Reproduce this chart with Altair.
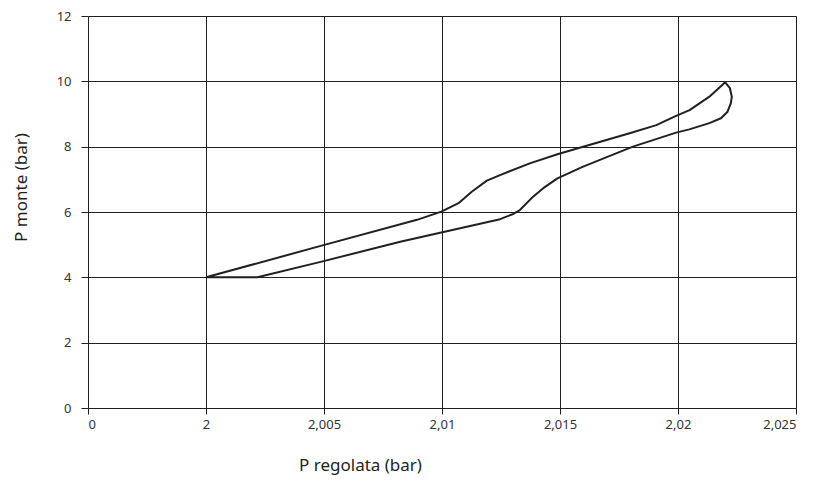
import altair as alt
import pandas as pd

# Closed loop: upper branch (rising), tip, then lower branch (returning)
p_regolata = [
    2.0000, 2.0049, 2.00894, 2.00997, 2.01070, 2.01126, 2.01190, 2.01246,
    2.01372, 2.01489, 2.01598, 2.01795, 2.01908, 2.01992, 2.02049, 2.02133,
    2.02200,
    2.02220, 2.02228, 2.02224, 2.02210, 2.02182, 2.02133, 2.02048, 2.01992,
    2.01809, 2.01598, 2.01489, 2.01429, 2.01386, 2.01330, 2.01302, 2.01246,
    2.00997, 2.00823, 2.00490, 2.00218, 2.0000,
]
p_monte = [
    4.00, 4.97, 5.76, 6.01, 6.27, 6.62, 6.96, 7.13,
    7.49, 7.77, 8.00, 8.41, 8.66, 8.94, 9.12, 9.53,
    9.97,
    9.79, 9.53, 9.33, 9.07, 8.87, 8.72, 8.53, 8.43,
    8.00, 7.39, 7.03, 6.73, 6.47, 6.06, 5.94, 5.78,
    5.37, 5.09, 4.48, 4.00, 4.00,
]
x_ticks = [1.995, 2.0, 2.005, 2.01, 2.015, 2.02, 2.025]
y_ticks = [0, 2, 4, 6, 8, 10, 12]

df = pd.DataFrame({
    "x": p_regolata,
    "y": p_monte,
    "i": list(range(len(p_regolata))),
})

FONT = "Noto Sans"
INK = "#231f20"

chart = alt.Chart(df).mark_line(
    color=INK, strokeWidth=2, interpolate="linear", strokeJoin="round"
).encode(
    x=alt.X(
        "x:Q",
        scale=alt.Scale(domain=[1.995, 2.025], nice=False, zero=False),
        axis=alt.Axis(
            values=x_ticks,
            title="P regolata (bar)",
            labelExpr="datum.value < 1.999 ? '0' : replace(format(datum.value, '.3~f'), '.', ',')",
            grid=True,
            gridColor=INK,
            gridOpacity=1,
            gridWidth=1,
            domain=False,
            ticks=True,
            tickSize=6,
            tickColor=INK,
            tickWidth=1,
            labelPadding=4,
            labelFontSize=13,
            labelColor="#333333",
            labelFont=FONT,
            titleFont=FONT,
            titleFontSize=17,
            titleFontWeight="normal",
            titleColor=INK,
            titleX=272,
            titleY=62,
            titleAlign="center",
            titleBaseline="alphabetic",
        ),
    ),
    y=alt.Y(
        "y:Q",
        scale=alt.Scale(domain=[0, 12], nice=False),
        axis=alt.Axis(
            values=y_ticks,
            title="P monte (bar)",
            grid=True,
            gridColor=INK,
            gridOpacity=1,
            gridWidth=1,
            domain=False,
            ticks=True,
            tickSize=7,
            tickColor=INK,
            tickWidth=1,
            labelPadding=10,
            labelFontSize=13,
            labelColor="#333333",
            labelFont=FONT,
            titleFont=FONT,
            titleFontSize=17,
            titleFontWeight="normal",
            titleColor=INK,
            titleX=-67,
            titleY=171,
            titleAlign="center",
            titleBaseline="middle",
        ),
    ),
    order="i:Q",
).properties(
    width=708,
    height=392,
    autosize=alt.AutoSizeParams(type="none"),
    padding={"left": 80, "top": 8, "right": 12, "bottom": 67},
).configure_view(
    fill="#e6e7e8",
    stroke=INK,
    strokeWidth=1.5,
).configure(background="white")

chart.save("out.html", embed_options={"renderer": "svg", "actions": False})
